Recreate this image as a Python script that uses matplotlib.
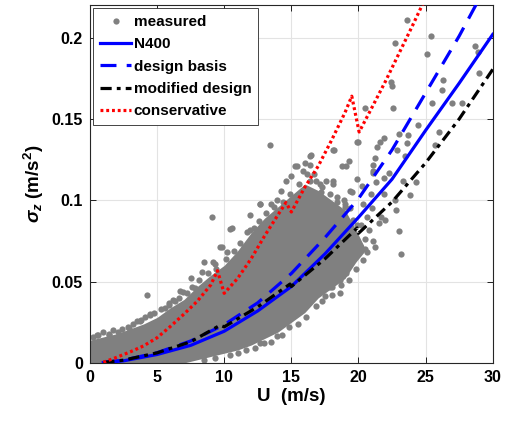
import numpy as np
import matplotlib
matplotlib.use("Agg")
from matplotlib import pyplot as plt

plt.rcParams["font.family"] = ["Liberation Sans", "DejaVu Sans"]
plt.rcParams["font.weight"] = "bold"
plt.rcParams["mathtext.fontset"] = "custom"
plt.rcParams["mathtext.rm"] = "Liberation Sans"
plt.rcParams["mathtext.it"] = "Liberation Sans:italic"
plt.rcParams["mathtext.bf"] = "Liberation Sans:bold"

GRAY = "#808080"

# dense part of the measured cloud (upper / lower edges)
core_u = [0, 1, 2, 3, 4, 5, 6, 7, 8, 9, 10, 11, 12, 13, 14, 15, 16, 17, 18, 19, 19.8, 20.4]
core_hi = [0.014, 0.016, 0.018, 0.021, 0.024, 0.028, 0.034, 0.039, 0.047, 0.054, 0.060,
           0.069, 0.080, 0.089, 0.096, 0.103, 0.110, 0.106, 0.100, 0.094, 0.082, 0.072]
core_lo = [0, 0, 0, 0, 0, 0, 0, 0, 0.002, 0.004, 0.006, 0.008, 0.011, 0.015, 0.019,
           0.025, 0.031, 0.040, 0.046, 0.052, 0.062, 0.068]

# scattered measured points outside the dense part
meas_u = [0.2, 0.6, 1.4, 1.4, 2.1, 2.8, 2.9, 3.76, 3.8, 4.26, 4.5, 4.5, 5.9, 5.9, 6.2,
          6.7, 6.9, 7.5, 7.6, 8.35, 8.5, 9.2, 9.3, 9.7, 9.8, 10.2, 9.1, 10.45, 10.6, 11.7,
          11.9, 11.9, 12.7, 12.7, 13.4, 13.9, 15.3, 15.4, 16.0, 16.4, 16.4, 16.5, 16.7,
          17.2, 17.6, 18.1, 18.1, 18.2, 18.8, 19.1, 19.3, 19.9, 19.9, 20.0, 20.5, 21.1,
          21.1, 21.2, 21.4, 21.6, 21.9, 22.4, 22.5, 22.6, 22.7, 22.9, 23.0, 23.5, 23.6,
          23.7, 23.6, 24.4, 25.1, 25.4, 25.5, 25.7, 26.0, 26.2, 26.3, 27.0, 27.7, 28.7,
          28.9, 29.0, 22.3, 24.3, 23.8, 23.3, 21.9, 22.7, 22.8, 22.0, 23.0, 23.2, 21.2,
          20.8, 20.1, 19.9, 19.6, 19.1, 18.6, 18.0, 17.5, 18.6, 13.6, 13.9, 12.7,
          18.3, 18.9, 19.4, 20.3, 20.6, 21.0, 19.5, 20.2, 21.5, 20.9, 18.5, 19.0, 20.5,
          21.7, 21.9, 21.3, 14.6, 15.0, 15.9, 14.2, 13.5,
          20.25, 21.1, 19.4, 19.0, 19.9, 20.1, 19.6, 18.9, 17.9, 21.1, 20.5, 18.4, 18.1,
          17.1, 16.4,
          0.5, 1.0, 1.7, 2.4, 3.2, 3.5, 4.1, 4.8, 5.3, 5.6, 6.3, 6.6, 7.2, 7.8, 8.1, 8.8,
          9.4, 10.1, 10.7, 11.2, 11.5, 12.2, 12.6, 13.1, 13.7, 14.4, 14.9, 15.6, 16.2,
          16.8, 17.3, 17.9, 18.4, 19.0, 19.6,
          8.5, 9.3, 10.4, 11.0, 11.6, 12.3, 13.0, 13.5, 14.3, 14.8, 15.5, 16.1, 16.8,
          17.3, 18.0, 18.7, 19.3, 19.8, 20.3, 20.6]
meas_s = [0.016, 0.017, 0.0173, 0.018, 0.019, 0.0224, 0.0214, 0.0255, 0.0265, 0.0418,
          0.0296, 0.030, 0.0357, 0.037, 0.039, 0.044, 0.0438, 0.052, 0.047, 0.056, 0.062,
          0.062, 0.061, 0.0714, 0.071, 0.068, 0.090, 0.0826, 0.083, 0.0806, 0.0816, 0.091,
          0.098, 0.0975, 0.134, 0.100, 0.121, 0.121, 0.123, 0.122, 0.127, 0.128, 0.116,
          0.105, 0.112, 0.110, 0.131, 0.131, 0.121, 0.121, 0.124, 0.113, 0.136, 0.136,
          0.157, 0.117, 0.122, 0.126, 0.133, 0.136, 0.138, 0.173, 0.170, 0.157, 0.197,
          0.131, 0.141, 0.127, 0.135, 0.140, 0.211, 0.146, 0.190, 0.201, 0.160, 0.134,
          0.142, 0.168, 0.174, 0.160, 0.160, 0.195, 0.191, 0.178, 0.117, 0.111, 0.103,
          0.112, 0.104, 0.100, 0.094, 0.088, 0.081, 0.067, 0.071, 0.082, 0.072, 0.075,
          0.067, 0.055, 0.051, 0.047, 0.041, 0.043, 0.020, 0.0167, 0.012,
          0.090, 0.100, 0.095, 0.098, 0.090, 0.095, 0.105, 0.085, 0.086, 0.104, 0.078,
          0.083, 0.076, 0.090, 0.114, 0.111, 0.112, 0.115, 0.118, 0.106, 0.098,
          0.109, 0.118, 0.106, 0.098, 0.0846, 0.071, 0.063, 0.055, 0.047, 0.075, 0.070,
          0.102, 0.112, 0.110, 0.112,
          0.017, 0.019, 0.020, 0.021, 0.024, 0.026, 0.028, 0.031, 0.033, 0.034, 0.038,
          0.040, 0.043, 0.046, 0.051, 0.055, 0.058, 0.064, 0.069, 0.074, 0.071, 0.083,
          0.087, 0.092, 0.096, 0.099, 0.104, 0.110, 0.116, 0.112, 0.108, 0.104, 0.099,
          0.096, 0.088,
          0.002, 0.003, 0.005, 0.006, 0.008, 0.009, 0.012, 0.013, 0.017, 0.022, 0.024,
          0.028, 0.035, 0.038, 0.042, 0.048, 0.051, 0.058, 0.063, 0.068]

n400_u = [1, 2.5, 5, 7.5, 10, 12.5, 15, 17.5, 20, 22.5, 25, 27.5, 30]
n400_s = [0.0002, 0.0013, 0.0052, 0.0108, 0.0195, 0.032, 0.047, 0.067, 0.0895, 0.113,
          0.143, 0.172, 0.202]

basis_u = [1, 2.5, 5, 7.5, 10, 12.5, 15, 17.5, 20, 22.5, 25, 27.5, 29]
basis_s = [0.0003, 0.0017, 0.0063, 0.0135, 0.0235, 0.037, 0.055, 0.077, 0.101, 0.131,
           0.166, 0.201, 0.224]

modif_u = [1, 2.5, 5, 7.5, 9.7, 10, 12.5, 14.9, 15.0, 17.5, 19.9, 20.0, 22.5, 25, 27.5, 30]
modif_s = [0.0003, 0.0017, 0.0062, 0.013, 0.0232, 0.0222, 0.0345, 0.0485, 0.047, 0.064,
           0.0830, 0.0797, 0.099, 0.123, 0.150, 0.1805]

cons_u = [1, 2, 3, 4, 5, 6, 7, 8, 9, 9.5, 10, 11, 12, 13, 14, 14.6, 15, 16, 17, 18, 19,
          19.5, 20.05, 21, 22, 23, 24, 24.8]
cons_s = [0.0004, 0.0035, 0.0068, 0.0105, 0.0155, 0.0225, 0.030, 0.038, 0.048, 0.0567,
          0.0428, 0.052, 0.064, 0.078, 0.091, 0.0986, 0.0928, 0.108, 0.121, 0.137, 0.154,
          0.164, 0.142, 0.157, 0.173, 0.190, 0.207, 0.221]

xticks = [0, 5, 10, 15, 20, 25, 30]
yticks = [0, 0.05, 0.1, 0.15, 0.2]
ytick_labels = ["0", "0.05", "0.1", "0.15", "0.2"]


fig = plt.figure(figsize=(5.08, 4.26), dpi=100)
ax = fig.add_axes([0.177, 0.148, 0.793, 0.840])

ax.fill_between(core_u, core_lo, core_hi, color=GRAY, lw=0, zorder=2)
ax.plot(meas_u, meas_s, "o", ms=4.5, color=GRAY, mec="none", zorder=2, label="measured")
ax.plot(n400_u, n400_s, "-", color="#0000ff", lw=2.3, zorder=3, label="N400")
ax.plot(basis_u, basis_s, color="#0000ff", lw=2.3, dashes=(5, 3.2), zorder=3,
        label="design basis")
ax.plot(modif_u, modif_s, color="black", lw=2.3, dashes=(3.5, 1.6, 1.2, 1.6), zorder=4,
        label="modified design")
ax.plot(cons_u, cons_s, color="#ff0000", lw=2.3, dashes=(0.9, 0.9), zorder=5,
        label="conservative")

ax.set_xlim(0, 30)
ax.set_ylim(0, 0.22)
ax.set_xticks(xticks)
ax.set_yticks(yticks)
ax.set_yticklabels(ytick_labels)
ax.tick_params(direction="in", length=4, width=0.6, labelsize=11.5, top=True, right=True,
               pad=5)
ax.grid(True, color="#e3e3e3", lw=0.8, zorder=0)
ax.set_axisbelow(True)
for sp in ax.spines.values():
    sp.set_linewidth(0.8)
    sp.set_color("#262626")

ax.set_xlabel("U  (m/s)", fontsize=13.5, fontweight="bold", labelpad=2)
ax.set_ylabel(r"$\sigma_z$ (m/s$^{\mathbf{2}}$)", fontsize=13.5, fontweight="bold",
              labelpad=4)

leg = ax.legend(loc="upper left", bbox_to_anchor=(0.008, 0.992), borderaxespad=0,
                fontsize=11, handlelength=2.05, handletextpad=0.15, labelspacing=0.55,
                borderpad=0.45, fancybox=False, framealpha=1, edgecolor="#262626")
leg.get_frame().set_linewidth(0.6)
for t in leg.get_texts():
    t.set_fontweight("bold")

fig.savefig("out.png", dpi=100)
